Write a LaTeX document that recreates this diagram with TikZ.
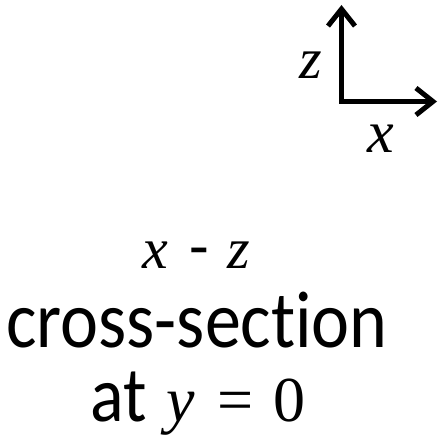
\documentclass[tikz,border=0pt]{standalone}
\usepackage{graphicx}
\usepackage{fontspec}
\setmainfont{Carlito}[Ligatures=CommonOff]
\newfontfamily\mathserif{Liberation Serif}
\usetikzlibrary{arrows.meta}
\newcommand{\mvar}[1]{{\mathserif\itshape #1}}
\newcommand{\mupr}[1]{{\mathserif #1}}
\newcommand{\tall}[1]{\scalebox{1}[1.12]{#1}}
\begin{document}
\begin{tikzpicture}[x=1pt,y=1pt,
  axis/.style={line width=5pt,line join=miter,
    {Straight Barb[length=17pt,width=27pt]}-{Straight Barb[length=17pt,width=27pt]}},
  lbl/.style={inner sep=0pt,anchor=base}]
\useasboundingbox (0,-436) rectangle (439,0);
\coordinate (o) at (341.5,-101.5);
\coordinate (zt) at (341.5,-5);
\coordinate (xt) at (437,-101.5);
\draw[axis] (zt) -- (o) -- (xt);
\node[lbl,font=\fontsize{58}{58}\selectfont] (zl) at (311,-78) {\mvar{z}};
\node[lbl,font=\fontsize{60}{60}\selectfont] (xl) at (381,-152) {\mvar{x}};
\node[lbl,font=\fontsize{58}{58}\selectfont] (t1) at (196,-268) {\mvar{x}\hspace{22pt}{\fontsize{64}{64}\selectfont -}\hspace{18pt}\mvar{z}};
\node[lbl,font=\fontsize{72}{72}\selectfont] (t2) at (197,-347) {\tall{cross-section}};
\node[lbl,font=\fontsize{70}{70}\selectfont] (t3) at (198,-421) {\tall{at}\hspace{20pt}{\fontsize{64}{64}\selectfont\mvar{y}\hspace{22pt}\mupr{=}\hspace{20pt}\mupr{0}}};
\end{tikzpicture}
\end{document}
